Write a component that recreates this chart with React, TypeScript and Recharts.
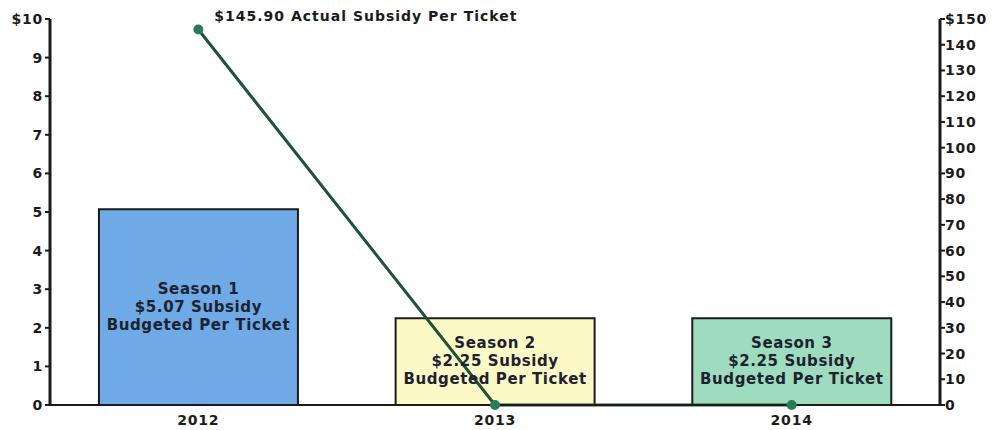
import React from 'react';
import { ComposedChart, Bar, Line, XAxis, YAxis, LabelList, Cell } from 'recharts';

const years = ['2012', '2013', '2014'];
const budgeted = [5.07, 2.25, 2.25];
const actual = [145.9, 0, 0];
const seasons = ['Season 1', 'Season 2', 'Season 3'];
const barColors = ['#6fa9e6', '#fcf9c6', '#9fdcbf'];
const leftTicks = [0, 1, 2, 3, 4, 5, 6, 7, 8, 9, 10];
const rightTicks = [0, 10, 20, 30, 40, 50, 60, 70, 80, 90, 100, 110, 120, 130, 140, 150];

const data = years.map((year, i) => ({
  year,
  budgeted: budgeted[i],
  actual: actual[i],
  season: seasons[i],
}));

const font = '"DejaVu Sans", Verdana, sans-serif';
const ink = '#1b1b1b';

const BarText = (props: any) => {
  const { x, y, width, height, index } = props;
  const cx = x + width / 2;
  const cy = y + height / 2;
  const lines = [seasons[index], `$${budgeted[index].toFixed(2)} Subsidy`, 'Budgeted Per Ticket'];
  return (
    <text x={cx} y={cy - 18} textAnchor="middle" fontFamily={font} fontWeight="bold" fontSize={15} letterSpacing={0.6} fill="#1c2230">
      {lines.map((l, k) => (
        <tspan key={k} x={cx} dy={k === 0 ? 0 : 18} dominantBaseline="middle">
          {l}
        </tspan>
      ))}
    </text>
  );
};

const PeakText = (props: any) => {
  const { x, y, index } = props;
  if (index !== 0) return null;
  return (
    <text x={x + 16} y={y - 9} fontFamily={font} fontWeight="bold" fontSize={14} letterSpacing={1} fill={ink}>
      {`$${actual[0].toFixed(2)} Actual Subsidy Per Ticket`}
    </text>
  );
};

export default function App() {
  const tickStyle = { fontFamily: font, fontWeight: 'bold' as const, fontSize: 14, letterSpacing: 0.8, fill: ink };
  return (
    <div style={{ position: 'absolute', left: 0, top: 0 }}>
      <ComposedChart width={995} height={430} data={data} margin={{ top: 19, right: 0, bottom: 0, left: 0 }} barCategoryGap="16.5%">
        <XAxis
          dataKey="year"
          height={25}
          tickLine={false}
          axisLine={{ stroke: ink, strokeWidth: 2 }}
          tick={tickStyle}
          tickMargin={4}
        />
        <YAxis
          yAxisId="left"
          width={50}
          domain={[0, 10]}
          ticks={leftTicks}
          interval={0}
          tickFormatter={(v: number) => (v === 10 ? '$10' : String(v))}
          axisLine={{ stroke: ink, strokeWidth: 3 }}
          tickLine={{ stroke: ink, strokeWidth: 2 }}
          tickSize={5}
          tickMargin={2}
          tick={tickStyle}
        />
        <YAxis
          yAxisId="right"
          orientation="right"
          width={55}
          domain={[0, 150]}
          ticks={rightTicks}
          interval={0}
          tickFormatter={(v: number) => (v === 150 ? '$150' : String(v))}
          axisLine={{ stroke: ink, strokeWidth: 3 }}
          tickLine={{ stroke: ink, strokeWidth: 2 }}
          tickSize={5}
          tickMargin={0}
          tick={tickStyle}
        />
        <Bar yAxisId="left" dataKey="budgeted" stroke={ink} strokeWidth={2} isAnimationActive={false}>
          {data.map((d, i) => (
            <Cell key={d.year} fill={barColors[i]} />
          ))}
          <LabelList dataKey="budgeted" content={BarText} />
        </Bar>
        <Line
          yAxisId="right"
          dataKey="actual"
          stroke="#1f5238"
          strokeWidth={3}
          dot={{ r: 3.5, fill: '#2a7c58', stroke: '#2a7c58' }}
          isAnimationActive={false}
        >
          <LabelList dataKey="actual" content={PeakText} />
        </Line>
      </ComposedChart>
    </div>
  );
}
